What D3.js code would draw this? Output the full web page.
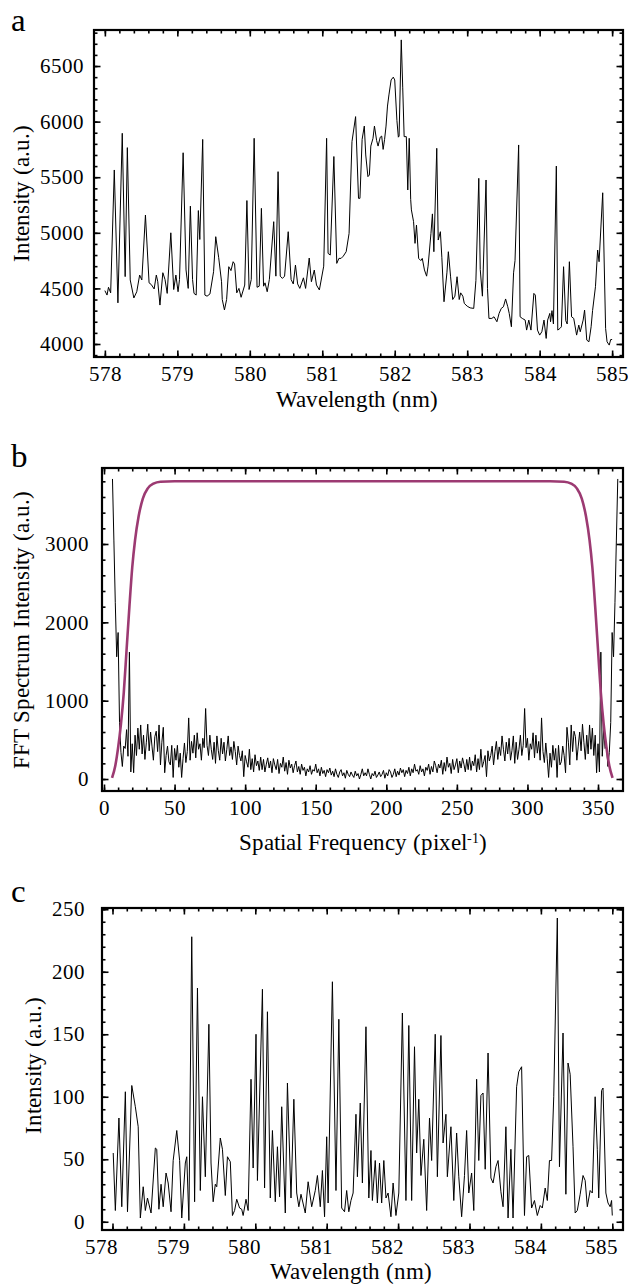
<!DOCTYPE html>
<html>
<head>
<meta charset="utf-8">
<script src="https://cdn.jsdelivr.net/npm/d3@7"></script>
<style>
  @font-face {
    font-family: "ChartSerif";
    src: local("Liberation Serif"), local("LiberationSerif"), local("LiberationSerif-Regular"),
         local("Times New Roman"), local("Tinos"), local("Nimbus Roman"), local("FreeSerif"), local("DejaVu Serif");
  }
  body { margin: 0; background: #fff; }
</style>
</head>
<body>
<div id="c"></div>
<script>
// ---- panel a : raw spectrum ----
var aWl = [578.00,578.03,578.05,578.08,578.13,578.18,578.24,578.28,578.31,578.35,
  578.40,578.44,578.48,578.51,578.56,578.61,578.64,578.68,578.71,578.73,
  578.76,578.80,578.83,578.86,578.91,578.95,578.98,579.01,579.03,579.08,
  579.12,579.15,579.18,579.21,579.23,579.26,579.29,579.31,579.35,579.38,
  579.41,579.45,579.50,579.53,579.57,579.61,579.62,579.65,579.68,579.71,
  579.74,579.77,579.79,579.82,579.85,579.88,579.93,579.96,579.99,580.02,
  580.06,580.10,580.13,580.16,580.19,580.21,580.24,580.27,580.33,580.36,
  580.39,580.42,580.45,580.48,580.53,580.57,580.60,580.63,580.66,580.69,
  580.74,580.77,580.82,580.85,580.89,580.92,580.96,581.02,581.06,581.08,
  581.11,581.16,581.20,581.23,581.26,581.29,581.33,581.37,581.41,581.46,
  581.50,581.52,581.55,581.58,581.60,581.63,581.65,581.67,581.70,581.72,
  581.75,581.77,581.80,581.82,581.84,581.86,581.88,581.90,581.92,581.95,
  581.98,582.00,582.03,582.05,582.06,582.09,582.11,582.13,582.16,582.18,
  582.20,582.22,582.23,582.26,582.28,582.30,582.33,582.36,582.38,582.41,
  582.44,582.46,582.50,582.52,582.54,582.58,582.60,582.63,582.65,582.68,
  582.72,582.74,582.77,582.80,582.83,582.86,582.89,582.91,582.94,582.96,
  583.00,583.04,583.09,583.12,583.16,583.18,583.21,583.26,583.28,583.30,
  583.34,583.37,583.41,583.44,583.47,583.50,583.53,583.56,583.58,583.61,
  583.64,583.66,583.71,583.73,583.76,583.80,583.82,583.85,583.88,583.92,
  583.94,583.97,584.00,584.03,584.06,584.09,584.11,584.14,584.15,584.17,
  584.19,584.23,584.25,584.28,584.30,584.33,584.36,584.38,584.41,584.44,
  584.47,584.51,584.54,584.56,584.60,584.62,584.65,584.68,584.71,584.73,
  584.77,584.80,584.82,584.87,584.91,584.93,584.96,584.98,585.00];
var aInt = [4480,4440,4510,4460,5565,4370,5895,4606,5766,4576,
  4414,4470,4620,4576,5160,4550,4535,4495,4620,4560,
  4350,4641,4580,4455,5000,4490,4620,4470,4580,5720,
  4666,4500,5240,4580,4455,4440,5200,4940,5840,4440,
  4430,4450,4650,4965,4780,4560,4400,4306,4400,4695,
  4660,4740,4720,4460,4500,4420,4530,5290,4490,4580,
  5850,4510,4520,5220,4520,4550,4470,4580,5100,4610,
  5550,4610,4590,4610,5010,4580,4540,4710,4540,4500,
  4595,4500,4773,4560,4665,4530,4486,4700,5850,4815,
  4800,5686,4725,4770,4770,4790,4830,4995,5820,6045,
  5310,5310,5840,5960,5700,5505,5520,5780,5850,5960,
  5830,5780,5860,5870,5750,5840,5960,6140,6240,6375,
  6400,6375,6010,5860,5870,6735,6310,5865,5865,5385,
  5850,5300,5206,5100,4905,5070,4770,4750,4770,4666,
  4610,4700,4995,5170,4830,5760,4935,5010,4780,4380,
  4640,4830,4610,4400,4430,4605,4400,4460,4430,4365,
  4340,4325,4320,4570,5490,4670,4430,5475,4500,4230,
  4230,4245,4200,4275,4320,4335,4405,4335,4275,4155,
  4640,4750,5790,4245,4230,4215,4125,4215,4125,4455,
  4440,4125,4080,4110,4215,4050,4215,4275,4200,4300,
  4180,5600,4125,4140,4155,4695,4210,4180,4740,4245,
  4230,4080,4170,4110,4215,4305,4035,4020,4155,4300,
  4515,4845,4740,5360,4140,4020,3990,4040,4040];

// ---- panel b : FFT magnitude (pixel index 6..364) and filter ----
var fftK = d3.range(6, 365);
var fftAmp = [3830,3050,2250,1560,1870,720,340,160,420,390,630,290,1620,90,
  450,80,560,300,650,380,690,320,560,250,470,700,360,600,420,240,540,610,350,690,180,470,660,80,300,420,
  220,180,430,20,390,240,430,150,330,20,260,460,210,350,780,
  240,480,330,560,270,590,380,450,240,520,400,900,430,300,560,380,250,470,200,550,
  360,240,520,320,470,230,380,550,300,410,250,480,350,180,420,300,230,360,30,300,
  220,150,380,120,260,90,310,170,230,110,
  280,120,250,90,190,270,140,230,80,260,180,120,250,70,200,150,280,100,210,60,240,140,190,80,170,230,90,160,60,190,
  110,150,40,130,90,170,60,120,100,190,80,130,40,150,70,110,30,120,80,140,
  50,100,30,130,60,20,90,120,40,80,10,110,60,30,90,50,20,100,40,70,0,60,130,40,80,
  40,130,60,0,70,40,100,20,50,90,30,60,110,10,80,40,120,90,20,60,130,30,100,50,
  140,80,120,30,110,70,150,40,130,80,190,100,120,60,170,90,130,40,150,110,
  190,60,160,90,230,170,80,190,140,240,60,210,100,280,150,200,70,250,120,180,260,80,230,140,270,190,90,250,120,280,
  110,230,170,310,90,260,120,380,150,220,
  300,30,360,230,300,420,180,350,480,250,410,300,550,380,230,470,320,520,240,360,
  550,200,470,250,380,560,300,430,900,400,520,240,450,380,590,270,560,330,480,240,
  780,350,210,460,260,20,330,150,430,240,390,20,430,180,220,
  420,300,80,660,470,180,690,350,610,540,240,420,600,360,700,470,250,560,320,690,380,650,300,560,80,450,
  90,1620,290,630,390,420,160,340,720,1870,1560,2250,3050,3830];
var filterK = [5.7,8,10,12,14,16,18,20,22,24.5,27.5,31,35,40,50,100,183,266,
  316,326,331,335,338.5,341.5,344,346,348,350,352,354,356,358,360.3];
var filterAmp = [15,170,400,700,1100,1650,2200,2700,3050,3350,3580,3710,3770,3795,3800,3800,3800,3800,
  3800,3795,3770,3710,3580,3350,3050,2700,2200,1650,1100,700,400,170,15];

// ---- panel c : filtered spectrum ----
var cWl = [578.01,578.04,578.09,578.13,578.18,578.21,578.27,578.32,578.36,578.39,
  578.43,578.46,578.49,578.54,578.60,578.62,578.65,578.68,578.71,578.75,
  578.78,578.82,578.85,578.90,578.94,578.97,579.02,579.04,579.07,579.11,
  579.15,579.19,579.23,579.26,579.30,579.35,579.38,579.41,579.44,579.46,
  579.51,579.54,579.58,579.61,579.65,579.68,579.71,579.74,579.78,579.81,
  579.83,579.87,579.90,579.94,579.97,580.01,580.03,580.10,580.13,580.17,
  580.21,580.24,580.28,580.31,580.34,580.37,580.42,580.45,580.50,580.54,
  580.58,580.61,580.64,580.70,580.74,580.79,580.84,580.87,580.91,580.94,
  580.97,581.00,581.02,581.08,581.13,581.17,581.21,581.25,581.28,581.31,
  581.34,581.37,581.41,581.43,581.47,581.50,581.55,581.59,581.62,581.64,
  581.68,581.71,581.74,581.77,581.80,581.83,581.86,581.90,581.93,581.97,
  582.01,582.06,582.11,582.15,582.19,582.23,582.26,582.29,582.32,582.36,
  582.40,582.44,582.47,582.52,582.55,582.60,582.63,582.67,582.69,582.74,
  582.78,582.82,582.85,582.89,582.93,582.96,582.99,583.03,583.06,583.10,
  583.13,583.16,583.19,583.22,583.26,583.30,583.33,583.37,583.40,583.44,
  583.47,583.51,583.54,583.58,583.61,583.66,583.69,583.73,583.77,583.80,
  583.83,583.87,583.91,583.95,583.99,584.02,584.06,584.09,584.12,584.15,
  584.18,584.23,584.26,584.31,584.35,584.38,584.41,584.45,584.48,584.51,
  584.55,584.59,584.62,584.65,584.69,584.72,584.76,584.79,584.81,584.85,
  584.87,584.91,584.94,584.97,584.99,585.00];
var cInt = [55,9,83,12,104,8,109,92,76,3,
  28,9,19,7,59,58,10,30,12,39,
  31,8,49,73,49,3,47,52,1,228,
  16,187,25,100,36,158,47,16,30,28,
  67,58,21,52,48,5,9,18,11,10,
  5,18,9,114,43,150,33,186,27,168,
  19,73,16,60,20,92,7,111,19,98,
  23,12,22,7,32,12,25,37,12,41,
  4,68,15,192,25,162,11,8,25,8,
  17,23,86,36,95,31,156,19,57,17,
  49,15,47,15,49,19,23,4,31,5,
  23,167,17,157,17,140,55,98,37,66,
  9,83,49,150,36,149,63,86,36,76,
  17,71,36,4,37,73,23,39,9,114,
  49,101,103,42,135,35,31,44,49,24,
  12,76,3,58,3,108,120,124,5,52,
  53,11,17,5,13,11,27,17,49,49,
  100,243,44,151,22,127,118,60,7,9,
  22,37,33,12,25,23,100,58,19,105,
  107,23,15,12,17,5];

var xTicksWl = [578, 579, 580, 581, 582, 583, 584, 585];
var yTicksA = [4000, 4500, 5000, 5500, 6000, 6500];
var xTicksB = [0, 50, 100, 150, 200, 250, 300, 350];
var yTicksB = [0, 1000, 2000, 3000];
var yTicksC = [0, 50, 100, 150, 200, 250];

var FONT = "ChartSerif, 'Liberation Serif', 'DejaVu Serif'";
var PURPLE = "#9c3a72";

var svg = d3.select("#c").append("svg")
    .attr("width", 628)
    .attr("height", 1288);

function minorTicks(a, b, step) {
  return d3.range(Math.round(a / step), Math.round(b / step) + 1).map(function(i) { return +(i * step).toFixed(6); });
}

function drawPanel(p) {
  var g = svg.append("g");
  var x = d3.scaleLinear().domain(p.xDomain).range([p.left, p.right]);
  var y = d3.scaleLinear().domain(p.yDomain).range([p.bottom, p.top]);

  var xMinor = minorTicks(p.xDomain[0], p.xDomain[1], p.xMinor).filter(function(v) { return v >= p.xDomain[0] && v <= p.xDomain[1]; });
  var yMinor = minorTicks(p.yDomain[0], p.yDomain[1], p.yMinor).filter(function(v) { return v >= p.yDomain[0] && v <= p.yDomain[1]; });

  function style(sel) {
    sel.attr("font-family", null).attr("font-size", null);
    sel.select(".domain").remove();
    sel.selectAll(".tick line").attr("stroke", "#000").attr("stroke-width", 1.6);
    sel.selectAll("text").style("font-family", FONT).attr("font-size", 21).attr("fill", "#000");
  }

  // bottom
  g.append("g").attr("transform", "translate(0," + p.bottom + ")")
    .call(d3.axisBottom(x).tickValues(xMinor).tickSize(-3.5).tickFormat("")).call(style);
  var bx = g.append("g").attr("transform", "translate(0," + p.bottom + ")")
    .call(d3.axisBottom(x).tickValues(p.xTicks).tickSize(-6.5).tickPadding(p.xPad).tickFormat(d3.format("d"))).call(style);
  if (p.xLabelDx) bx.selectAll("text").attr("dx", p.xLabelDx);
  // top
  g.append("g").attr("transform", "translate(0," + p.top + ")")
    .call(d3.axisTop(x).tickValues(xMinor).tickSize(-3.5).tickFormat("")).call(style);
  g.append("g").attr("transform", "translate(0," + p.top + ")")
    .call(d3.axisTop(x).tickValues(p.xTicks).tickSize(-6.5).tickFormat("")).call(style);
  // left
  g.append("g").attr("transform", "translate(" + p.left + ",0)")
    .call(d3.axisLeft(y).tickValues(yMinor).tickSize(-3.5).tickFormat("")).call(style);
  g.append("g").attr("transform", "translate(" + p.left + ",0)")
    .call(d3.axisLeft(y).tickValues(p.yTicks).tickSize(-6.5).tickPadding(p.yPad).tickFormat(d3.format("d"))).call(style);
  // right
  g.append("g").attr("transform", "translate(" + p.right + ",0)")
    .call(d3.axisRight(y).tickValues(yMinor).tickSize(-3.5).tickFormat("")).call(style);
  g.append("g").attr("transform", "translate(" + p.right + ",0)")
    .call(d3.axisRight(y).tickValues(p.yTicks).tickSize(-6.5).tickFormat("")).call(style);

  // clip
  g.append("clipPath").attr("id", p.id + "clip")
    .append("rect")
    .attr("x", p.left).attr("y", p.top)
    .attr("width", p.right - p.left).attr("height", p.bottom - p.top);
  var plot = g.append("g").attr("clip-path", "url(#" + p.id + "clip)");

  p.series.forEach(function(s) {
    var pts = s.x.map(function(v, i) { return [v, s.y[i]]; });
    var line = d3.line()
        .x(function(d) { return x(d[0]); })
        .y(function(d) { return y(d[1]); });
    if (s.smooth) line.curve(d3.curveMonotoneX);
    plot.append("path")
      .datum(pts)
      .attr("d", line)
      .attr("fill", "none")
      .attr("stroke", s.color)
      .attr("stroke-width", s.width)
      .attr("stroke-linejoin", "round");
  });

  // frame
  g.append("rect")
    .attr("x", p.left).attr("y", p.top)
    .attr("width", p.right - p.left).attr("height", p.bottom - p.top)
    .attr("fill", "none").attr("stroke", "#000").attr("stroke-width", 2.2);

  // panel letter
  g.append("text").attr("x", 11).attr("y", p.letterY)
    .style("font-family", FONT).attr("font-size", 33).text(p.letter);

  // axis titles
  var xt = g.append("text")
    .attr("x", (p.left + p.right) / 2 + p.xTitleDx).attr("y", p.xTitleY)
    .style("font-family", FONT).attr("text-anchor", "middle").attr("font-size", 23);
  xt.text(p.xTitle);
  if (p.xTitleSup) {
    xt.append("tspan").attr("baseline-shift", "super").attr("font-size", 14).text(p.xTitleSup);
    xt.append("tspan").text(")");
  }
  g.append("text")
    .attr("transform", "translate(" + p.yTitleX + "," + p.yTitleY + ") rotate(-90)")
    .style("font-family", FONT).attr("text-anchor", "middle").attr("font-size", 23)
    .text(p.yTitle);
}

drawPanel({
  id: "a", letter: "a", letterY: 31,
  left: 94, right: 623, top: 30, bottom: 357,
  xDomain: [577.85, 585.15], yDomain: [3883, 6824],
  xTicks: xTicksWl, yTicks: yTicksA, xMinor: 0.2, yMinor: 100,
  xPad: 9, yPad: 10,
  xTitle: "Wavelength (nm)", xTitleY: 407, xTitleDx: -2,
  yTitle: "Intensity (a.u.)", yTitleX: 29, yTitleY: 193,
  series: [{ x: aWl, y: aInt, color: "#000", width: 1 }]
});

drawPanel({
  id: "b", letter: "b", letterY: 467,
  left: 102, right: 623, top: 468, bottom: 791,
  xDomain: [-1.42, 367.7], yDomain: [-153, 3970],
  xTicks: xTicksB, yTicks: yTicksB, xMinor: 10, yMinor: 200,
  xPad: 9, yPad: 13,
  xTitle: "Spatial Frequency (pixel", xTitleSup: "-1", xTitleY: 850, xTitleDx: 0,
  yTitle: "FFT Spectrum Intensity (a.u.)", yTitleX: 29, yTitleY: 630,
  series: [
    { x: fftK, y: fftAmp, color: "#000", width: 1 },
    { x: filterK, y: filterAmp, color: PURPLE, width: 2.6, smooth: true }
  ]
});

drawPanel({
  id: "c", letter: "c", letterY: 902,
  left: 102, right: 623, top: 908, bottom: 1230,
  xDomain: [577.853, 585.15], yDomain: [-6.6, 251],
  xTicks: xTicksWl, yTicks: yTicksC, xMinor: 0.2, yMinor: 10,
  xPad: 9, yPad: 17, xLabelDx: -11,
  xTitle: "Wavelength (nm)", xTitleY: 1279, xTitleDx: -12,
  yTitle: "Intensity (a.u.)", yTitleX: 41, yTitleY: 1065,
  series: [{ x: cWl, y: cInt, color: "#000", width: 1 }]
});
</script>
</body>
</html>
